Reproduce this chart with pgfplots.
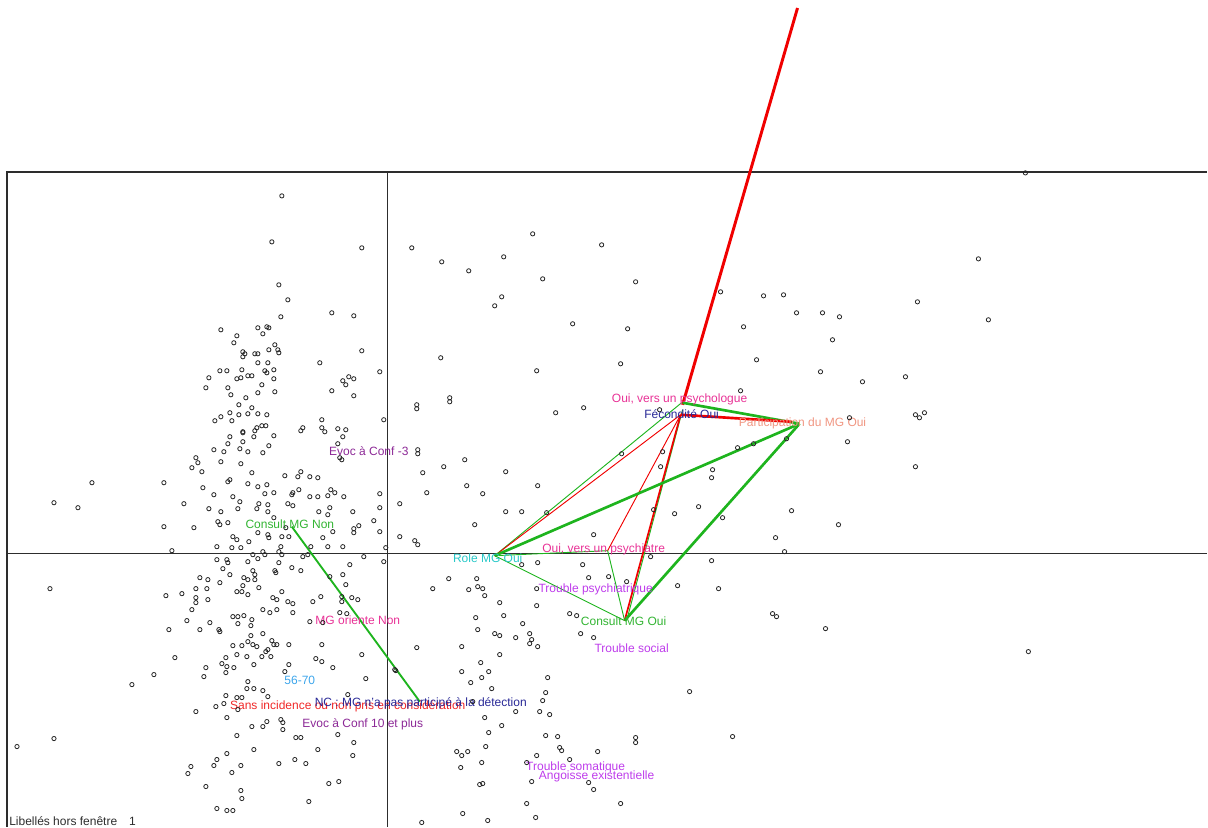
\documentclass[border=0pt]{standalone}
\usepackage{pgfplots}
\pgfplotsset{compat=1.18}
\usepackage{fontspec}
\setmainfont{Liberation Sans}
\definecolor{axcol}{RGB}{45,45,45}
\definecolor{lgreen}{RGB}{30,180,30}
\definecolor{lred}{RGB}{240,0,0}
\definecolor{cpink}{RGB}{232,50,150}
\definecolor{cnavy}{RGB}{40,40,150}
\definecolor{csalmon}{RGB}{240,150,130}
\definecolor{cpurple}{RGB}{140,40,150}
\definecolor{cgreen}{RGB}{50,180,50}
\definecolor{ccyan}{RGB}{40,200,200}
\definecolor{cviolet}{RGB}{190,60,235}
\definecolor{cblue}{RGB}{60,165,235}
\definecolor{cred}{RGB}{240,40,40}
\tikzset{lab/.style={font=\fontsize{9}{10}\selectfont, inner sep=0pt, anchor=center}}
\begin{document}
\begin{tikzpicture}
\begin{axis}[
  scale only axis, width=906pt, height=620.25pt,
  xmin=0, xmax=1208, ymin=0, ymax=827, y dir=reverse,
  hide axis, clip=false,
]
\addplot[draw=none, forget plot] coordinates {(0,0) (1208,827)};
% frame and axes
\addplot[axcol, line width=1.1pt] coordinates {(7,827) (7,172) (1208,172)};
\addplot[axcol, line width=1pt] coordinates {(388,172) (388,827)};
\addplot[axcol, line width=1pt] coordinates {(7,554) (1208,554)};

% individuals
\addplot[only marks, mark=o, mark size=1.6pt, mark options={line width=0.6pt, black!85}] coordinates {
(282,196)(272,242)(362,248)(279,285)(288,300)(281,317)(332,313)(354,316)
(221,330)(237,336)(258,328)(267,327)(269,328)(263,334)(234,343)(275,345)
(269,350)(278,350)(279,353)(362,351)(243,352)(245,354)(243,357)(255,354)
(258,354)(258,363)(268,363)(320,363)(220,371)(227,371)(242,370)(265,371)
(267,373)(274,370)(380,372)(209,378)(237,379)(241,378)(248,376)(252,376)
(274,379)(343,381)(349,377)(354,379)(346,385)(206,388)(228,388)(262,385)
(332,391)(275,392)(231,395)(246,398)(258,393)(354,396)(239,405)(239,415)
(252,408)(230,413)(248,414)(258,414)(267,415)(221,417)(215,421)(232,421)
(243,432)(243,433)(257,428)(262,426)(266,426)(255,431)(301,431)(303,428)
(322,420)(322,428)(325,432)(338,429)(346,430)(343,437)(384,420)(230,437)
(228,444)(254,437)(274,436)(243,442)(269,446)(214,450)(224,452)(240,449)
(248,452)(263,453)(338,444)(340,458)(342,460)(221,462)(196,458)(198,463)
(192,468)(202,472)(241,464)(252,473)(285,476)(298,477)(301,472)(310,477)
(318,478)(92,483)(164,483)(228,482)(230,480)(248,484)(258,487)(267,485)
(380,494)(203,488)(214,495)(233,497)(265,494)(274,493)(292,495)(293,493)
(299,490)(310,497)(318,497)(328,496)(335,493)(344,497)(331,490)
(54,503)(78,508)(184,504)(209,509)(221,512)(238,509)(240,502)(257,509)
(259,504)(268,505)(268,512)(288,504)(293,506)(319,512)(330,508)(328,515)
(353,512)(380,508)(164,527)(194,528)(218,522)(220,525)(228,523)(274,518)
(286,528)(359,526)(354,529)(354,533)(374,521)(380,532)(233,537)(237,540)
(249,542)(258,533)(268,535)(269,538)(282,537)(289,537)(323,538)(333,532)
(172,551)(217,547)(232,548)(241,548)(253,555)(263,552)(265,555)(281,547)
(279,552)(282,555)(311,547)(328,547)(343,547)(303,557)(308,555)(364,557)
(386,548)(384,562)(217,560)(227,560)(228,563)(248,562)(258,559)(279,563)
(223,569)(230,575)(253,571)(255,575)(276,573)(275,571)(292,568)(301,571)
(350,565)(330,577)(343,575)(200,578)(208,580)(220,583)(244,578)(248,580)
(255,580)(346,585)(50,589)(166,596)(182,594)(196,589)(207,589)(237,592)
(242,592)(243,586)(248,595)(259,588)(282,592)(196,598)(196,603)(208,600)
(273,598)(277,600)(288,602)(293,604)(313,602)(321,597)(342,597)(352,598)
(358,600)(342,602)(192,610)(263,610)(270,613)(277,610)(293,613)(340,613)
(347,614)(187,621)(210,623)(233,617)(238,617)(244,616)(238,624)(252,620)
(251,626)(310,622)(323,623)(169,630)(200,630)(219,630)(220,632)(251,636)
(263,634)(248,642)(253,645)(257,647)(233,646)(242,646)(272,641)(274,645)
(277,645)(289,645)(322,645)(268,650)(266,652)(271,657)(237,655)(247,657)
(226,658)(262,657)(175,658)(362,655)(316,659)(322,662)(222,664)(227,667)
(234,668)(226,673)(206,668)(204,677)(254,665)(289,665)(285,672)(333,668)
(366,679)(395,670)(154,675)(132,685)(248,682)(247,689)(254,689)(263,691)
(268,697)(348,695)(226,696)(237,698)(242,698)(216,707)(224,704)(238,710)
(196,712)(227,718)(267,722)(281,720)(283,723)(252,727)(263,727)(283,730)
(237,736)(296,738)(301,738)(338,735)(354,743)(54,739)(17,747)(254,750)
(318,750)(227,754)(353,756)(217,760)(214,766)(241,766)(279,764)(295,760)
(306,764)(191,767)(188,774)(232,773)(329,784)(339,782)(206,787)(241,791)
(242,799)(309,802)(217,809)(227,811)(233,811)
(412,248)(442,262)(469,271)(504,257)(533,234)(602,245)(543,279)(636,282)
(721,292)(764,296)(784,295)(797,313)(502,297)(495,306)(573,324)(628,329)
(744,327)(441,358)(537,371)(621,364)(757,360)(741,391)(417,405)(417,409)
(450,398)(450,402)(556,413)(584,408)(660,410)(418,450)(418,454)(622,454)
(663,452)(738,448)(754,444)(787,439)(444,467)(465,460)(423,473)(506,472)
(661,467)(713,470)(712,478)(427,493)(467,486)(483,494)(538,486)
(400,504)(506,512)(522,512)(547,513)(475,525)(400,537)(415,541)(418,545)
(594,535)(654,510)(699,507)(675,514)(723,518)(792,511)(776,538)(785,552)
(712,561)(651,557)(583,565)(538,563)(522,565)(449,579)(433,589)(469,590)
(477,579)(478,587)(483,589)(485,596)(537,589)(589,578)(609,577)(627,582)
(678,586)(719,589)(500,603)(537,606)(504,616)(570,614)(577,616)(773,614)
(777,617)(476,618)(478,630)(523,624)(495,634)(500,636)(516,638)(530,634)
(532,640)(530,644)(538,647)(581,634)(594,638)(417,648)(462,647)(500,655)
(481,663)(462,672)(482,678)(489,672)(471,683)(492,689)(548,678)(546,693)
(543,701)(396,671)(690,692)(485,718)(516,712)(540,712)(550,715)(473,702)
(502,726)(489,733)(546,736)(558,737)(636,738)(636,743)(733,737)(486,747)
(560,748)(562,751)(598,752)(457,752)(462,756)(468,752)(537,756)(570,760)
(482,763)(461,768)(527,763)(532,782)(589,783)(594,790)(480,785)(483,784)
(527,804)(621,804)(463,814)(488,821)(536,818)(422,823)
(1026,173)(979,259)(918,302)(823,313)(840,317)(833,340)(989,320)(821,372)
(863,382)(906,377)(850,418)(916,415)(920,418)(925,413)(848,442)(916,467)
(839,525)(826,629)(1029,652)
};

% links between categories
\addplot[lred, line width=2.2pt] coordinates {(683,405) (798,8)};
\addplot[lgreen, line width=0.7pt] coordinates {(495,556) (682,403)};
\addplot[lred, line width=0.7pt] coordinates {(495,556) (681,415)};
\addplot[lgreen, line width=0.7pt] coordinates {(495,556) (625,621)};
\addplot[lgreen, line width=0.7pt] coordinates {(495,556) (608,551)};
\addplot[lgreen, line width=0.7pt] coordinates {(608,551) (625,621)};
\addplot[lred, line width=0.7pt] coordinates {(681,415) (608,551)};
\addplot[lgreen, line width=0.7pt] coordinates {(683,410) (627,621)};
\addplot[lred, line width=1.3pt] coordinates {(681,415) (625,621)};
\addplot[lgreen, line width=2pt] coordinates {(800,424) (495,556)};
\addplot[lgreen, line width=2pt] coordinates {(800,424) (625,621)};
\addplot[lgreen, line width=2pt] coordinates {(683,403) (800,424)};
\addplot[lred, line width=2pt] coordinates {(681,415) (792,422)};
\addplot[lgreen, line width=1.4pt] coordinates {(292,527) (420,702)};

% category labels
\node[lab, text=cpink] at (axis cs:680,400) {Oui, vers un psychologue};
\node[lab, text=cnavy] at (axis cs:682,414) {Fécondité Oui};
\node[lab, text=csalmon] at (axis cs:803,424) {Participation du MG Oui};
\node[lab, text=cpurple] at (axis cs:369,451) {Evoc à Conf -3};
\node[lab, text=cgreen] at (axis cs:290,525) {Consult MG Non};
\node[lab, text=ccyan] at (axis cs:488,559) {Role MG Oui};
\node[lab, text=cpink] at (axis cs:604,550) {Oui, vers un psychiatre};
\node[lab, text=cviolet] at (axis cs:596,590) {Trouble psychiatrique};
\node[lab, text=cgreen] at (axis cs:624,622) {Consult MG Oui};
\node[lab, text=cviolet] at (axis cs:632,649) {Trouble social};
\node[lab, text=cpink] at (axis cs:358,621) {MG oriente Non};
\node[lab, text=cblue] at (axis cs:300,681) {56-70};
\node[lab, text=cred] at (axis cs:348,707) {Sans incidence ou non pris en considération};
\node[lab, text=cnavy] at (axis cs:421,704) {NC : MG n'a pas participé à la détection};
\node[lab, text=cpurple] at (axis cs:363,725) {Evoc à Conf 10 et plus};
\node[lab, text=cviolet] at (axis cs:576,768) {Trouble somatique};
\node[lab, text=cviolet] at (axis cs:597,777) {Angoisse existentielle};
\node[lab, text=axcol, anchor=west] at (axis cs:9,822) {Libellés hors fenêtre\hspace{1em}1};
\end{axis}
\end{tikzpicture}
\end{document}
